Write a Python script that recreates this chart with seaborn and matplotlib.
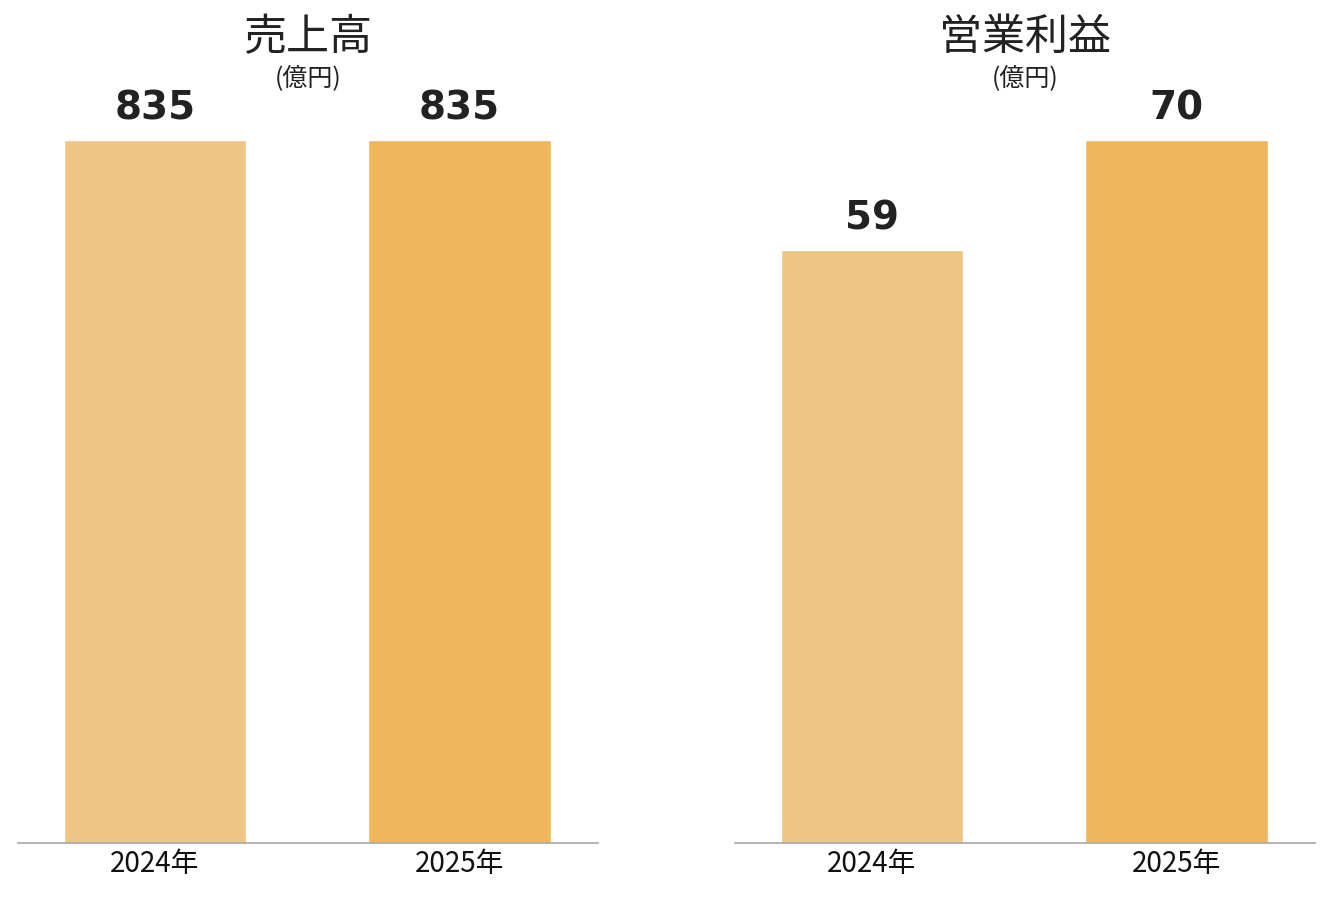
import seaborn as sns
import matplotlib.pyplot as plt

years = ["2024年", "2025年"]
sales = [835, 835]
profit = [59, 70]
titles = ["売上高", "営業利益"]
unit = "(億円)"
colors = ["#EEC585", "#EEB75C"]

sns.set_theme(style="white")
plt.rcParams['font.family'] = ['Noto Sans CJK JP', 'DejaVu Sans']

fig = plt.figure(figsize=(13.31, 8.98), dpi=100)
lefts = [18 / 1331, 735 / 1331]
bottom = 55 / 898
height = 703 / 898

for left, title, vals in zip(lefts, titles, [sales, profit]):
    ax = fig.add_axes([left, bottom, 580 / 1331, height])
    sns.barplot(x=years, y=vals, hue=years, palette=colors, width=0.6,
                legend=False, ax=ax, saturation=1)
    ax.set_xlim(-0.45, 1.455)
    ax.set_ylim(0, max(vals))
    for i, v in enumerate(vals):
        ax.text(i, v + max(vals) * 0.018, str(v), ha="center", va="bottom",
                fontsize=28, fontweight="bold", color="#222222",
                family="DejaVu Sans")
    for s in ["top", "right", "left"]:
        ax.spines[s].set_visible(False)
    ax.spines["bottom"].set_color("#aaaaaa")
    ax.set_yticks([])
    ax.tick_params(axis="x", length=0, labelsize=20, colors="#111111", pad=4)
    cx = left + 290 / 1331
    fig.text(cx, 1 - 38 / 898, title, ha="center", va="center",
             fontsize=31, color="#222222")
    fig.text(cx, 1 - 79 / 898, unit, ha="center", va="center",
             fontsize=18, color="#222222")

fig.savefig("out.png", dpi=100)
